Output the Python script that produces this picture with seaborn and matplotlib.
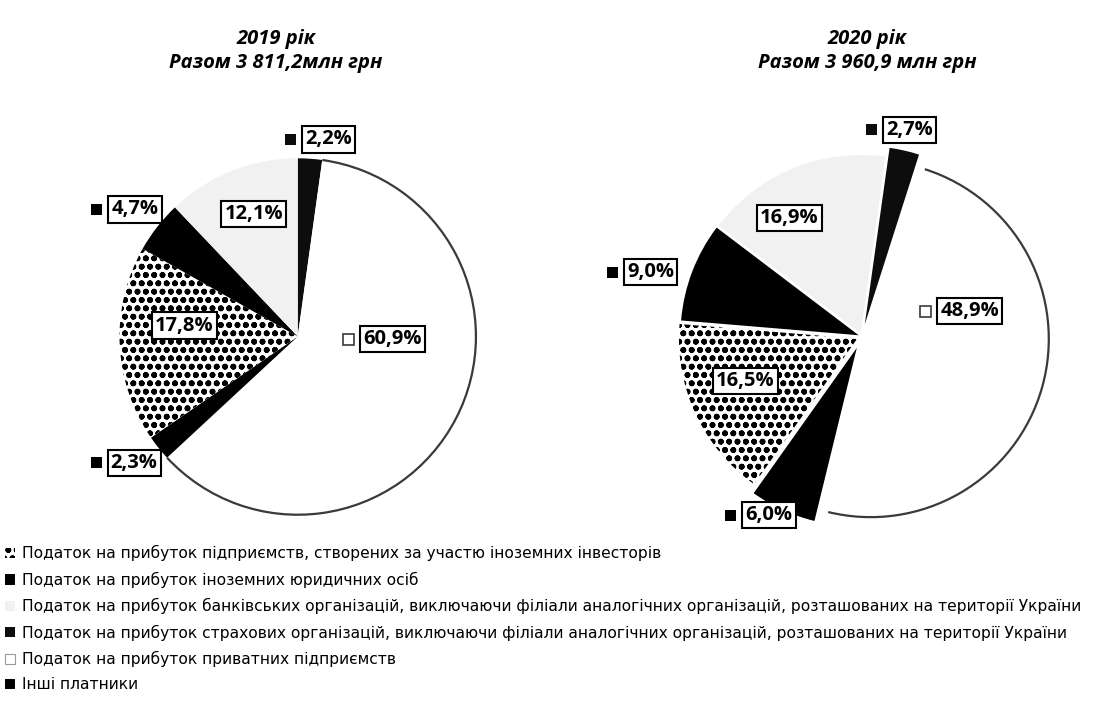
import matplotlib
matplotlib.use("Agg")
import matplotlib.pyplot as plt
import matplotlib.patches as mpatches
import numpy as np
import seaborn as sns

# legend order
categories = [
    "Податок на прибуток підприємств, створених за участю іноземних інвесторів",
    "Податок на прибуток іноземних юридичних осіб",
    "Податок на прибуток банківських організацій, виключаючи філіали аналогічних організацій, розташованих на території України",
    "Податок на прибуток страхових організацій, виключаючи філіали аналогічних організацій, розташованих на території України",
    "Податок на прибуток приватних підприємств",
    "Інші платники",
]
share_2019 = [17.8, 2.3, 12.1, 2.2, 60.9, 4.7]
share_2020 = [16.5, 6.0, 16.9, 2.7, 48.9, 9.0]
years = ["2019 рік", "2020 рік"]
totals = ["Разом 3 811,2млн грн", "Разом 3 960,9 млн грн"]

# slices go clockwise from the top in this order (indexes into categories)
pie_order = [3, 4, 1, 0, 5, 2]

sns.set_style("white")
plt.rcParams["font.family"] = ["DejaVu Sans"]
plt.rcParams["text.color"] = "black"
plt.rcParams["hatch.linewidth"] = 1.8

# black / white scan look
styles = [
    dict(facecolor="white", hatch="oo", edgecolor="black", linewidth=0),
    dict(facecolor="black", edgecolor="black", linewidth=0),
    dict(facecolor="#f1f1f1", edgecolor="#f1f1f1", linewidth=0),
    dict(facecolor="#0d0d0d", edgecolor="#0d0d0d", linewidth=0),
    dict(facecolor="white", edgecolor="white", linewidth=0),
    dict(facecolor="black", edgecolor="black", linewidth=0),
]

# label layout (in pie order): distance from centre, angle shift (deg, clockwise), marker on/off
layouts = [
    dict(start=90, explode=[0, 0, 0, 0, 0, 0],
         dist=[1.12, 0.53, 1.16, 0.64, 1.16, 0.73],
         shift=[5, -26, 1, 8, 0, 2],
         marker=[True, True, True, False, True, False],
         box=[0.05, 0.194, 0.435, 0.672], title_x=0.455),
    dict(start=82, explode=[0.07, 0.05, 0.07, 0.03, 0.02, 0.02],
         dist=[1.19, 0.62, 1.13, 0.70, 1.24, 0.78],
         shift=[0, -29, 3, 4, -4, -9],
         marker=[True, True, True, True, True, True],
         box=[0.557, 0.194, 0.435, 0.672], title_x=0.51),
]

fig = plt.figure(figsize=(11.13, 7.16), dpi=100)

texts = []
for k, shares in enumerate([share_2019, share_2020]):
    lay = layouts[k]
    ax = fig.add_axes(lay["box"])
    vals = [shares[i] for i in pie_order]
    wedges, _ = ax.pie(vals, startangle=lay["start"], counterclock=False,
                       explode=lay["explode"], radius=1.0)
    for w, i in zip(wedges, pie_order):
        w.set(**styles[i])
        if i == 4:
            ax.add_patch(mpatches.Arc(w.center, 2 * w.r, 2 * w.r,
                                      theta1=w.theta1, theta2=w.theta2,
                                      color="#3a3a3a", lw=1.6))
    ax.set_xlim(-1.35, 1.35)
    ax.set_ylim(-1.35, 1.35)
    ax.set_aspect("equal")
    ax.axis("off")

    for j, (w, i) in enumerate(zip(wedges, pie_order)):
        mid = (w.theta1 + w.theta2) / 2 - lay["shift"][j]
        r = lay["dist"][j]
        x, y = r * np.cos(np.radians(mid)), r * np.sin(np.radians(mid))
        txt = f"{shares[i]:.1f}%".replace(".", ",")
        t = ax.text(x, y, txt, ha="center", va="center", fontsize=14.5,
                    fontweight="bold", family=["Open Sans", "DejaVu Sans"],
                    bbox=dict(boxstyle="square,pad=0.16", fc="white",
                              ec="black", lw=1.5), zorder=5)
        if lay["marker"][j]:
            texts.append((t, i))

    ax.text(lay["title_x"], 1.118, years[k], transform=ax.transAxes,
            ha="center", va="center", fontsize=14.5, style="italic",
            fontweight="bold", family=["Open Sans", "DejaVu Sans"],
            clip_on=False)
    ax.text(lay["title_x"], 1.068, totals[k], transform=ax.transAxes,
            ha="center", va="center", fontsize=14.5, style="italic",
            fontweight="bold", family=["Open Sans", "DejaVu Sans"],
            clip_on=False)

# small legend keys beside the data labels
fig.canvas.draw()
renderer = fig.canvas.get_renderer()
W, H = fig.bbox.width, fig.bbox.height
for t, i in texts:
    bb = t.get_bbox_patch().get_window_extent(renderer)
    s = 11
    x0 = bb.x0 - 6 - s
    y0 = (bb.y0 + bb.y1) / 2 - s / 2
    st = dict(styles[i])
    if i == 4:
        st.update(edgecolor="#3a3a3a", linewidth=1.2)
    fig.add_artist(mpatches.Rectangle((x0 / W, y0 / H), s / W, s / H,
                                      transform=fig.transFigure, **st))

handles = []
for i in range(len(categories)):
    st = dict(styles[i])
    if i == 4:
        st.update(edgecolor="#9a9a9a", linewidth=0.8)
    handles.append(mpatches.Patch(**st))

fig.legend(handles, categories, loc="upper left",
           bbox_to_anchor=(-0.004, 1 - 536 / 716), frameon=False,
           fontsize=11.2, handlelength=0.65, handleheight=0.65,
           handletextpad=0.45, labelspacing=0.66, borderaxespad=0.2)

fig.savefig("out.png", dpi=100)
